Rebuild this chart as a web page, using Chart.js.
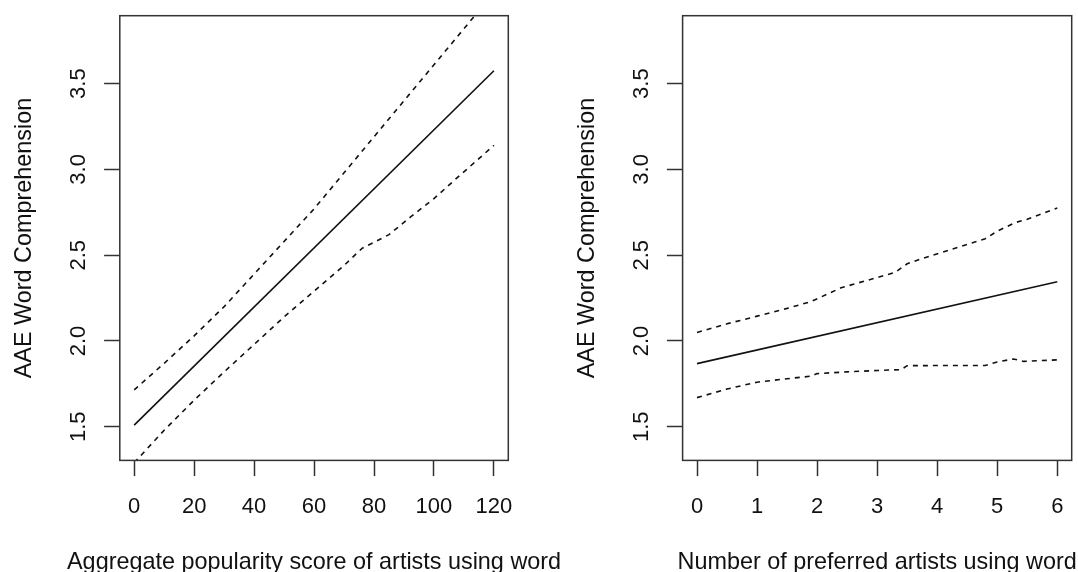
<!DOCTYPE html>
<html>
<head>
<meta charset="utf-8">
<script src="https://cdn.jsdelivr.net/npm/chart.js@4.4.1/dist/chart.umd.min.js"></script>
<style>
  html, body { margin: 0; padding: 0; background: #fff; }
  #wrap { position: relative; width: 1078px; height: 572px; overflow: hidden; }
  .panel { position: absolute; top: 0; height: 572px; }
</style>
</head>
<body>
<div id="wrap">
  <div class="panel" style="left:0"><canvas id="left" width="640" height="572"></canvas></div>
  <div class="panel" style="left:539px"><canvas id="right" width="539" height="572"></canvas></div>
</div>
<script>
// shared y axis
const yTicks = [1.5, 2.0, 2.5, 3.0, 3.5];
const yTitle = 'AAE Word Comprehension';

// left panel: aggregate popularity score
const popTicks = [0, 20, 40, 60, 80, 100, 120];
const popTitle = 'Aggregate popularity score of artists using word';
const popFitX = [0, 120];
const popFit = [1.51, 3.575];
const popUpperX = [0, 10, 20, 30, 40, 50, 60, 70, 80, 90, 100, 110, 120];
const popUpper = [1.715, 1.87, 2.03, 2.20, 2.39, 2.58, 2.77, 2.98, 3.19, 3.40, 3.61, 3.82, 4.03];
const popLowerX = [0, 10, 20, 30, 40, 50, 60, 70, 76, 85, 92, 100, 107, 120];
const popLower = [1.29, 1.48, 1.655, 1.82, 1.98, 2.14, 2.29, 2.44, 2.54, 2.62, 2.72, 2.83, 2.94, 3.14];

// right panel: number of preferred artists
const nTicks = [0, 1, 2, 3, 4, 5, 6];
const nTitle = 'Number of preferred artists using word';
const nFitX = [0, 6];
const nFit = [1.868, 2.345];
const nUpperX = [0, 0.5, 1, 1.5, 1.9, 2.4, 2.8, 3.3, 3.5, 3.7, 4.2, 4.8, 5.0, 5.3, 5.5, 6];
const nUpper = [2.05, 2.10, 2.145, 2.19, 2.23, 2.31, 2.35, 2.40, 2.45, 2.475, 2.53, 2.596, 2.64, 2.69, 2.71, 2.775];
const nLowerX = [0, 0.5, 1, 1.5, 1.9, 2.0, 2.5, 3.0, 3.4, 3.5, 4.0, 4.8, 5.0, 5.27, 5.44, 6];
const nLower = [1.67, 1.72, 1.76, 1.78, 1.795, 1.81, 1.82, 1.828, 1.833, 1.856, 1.857, 1.857, 1.878, 1.895, 1.881, 1.89];

const ink = '#111';
const frame = '#333';
const tickFont = '22px "Liberation Sans", Arial, sans-serif';
const titleFont = '23.4px "Liberation Sans", Arial, sans-serif';

function pts(xs, ys) {
  return xs.map((x, i) => ({ x: x, y: ys[i] }));
}

// box + R style labels
const rStyle = {
  id: 'rStyle',
  afterDraw(chart, args, opts) {
    const ctx = chart.ctx;
    const a = chart.chartArea;
    const xs = chart.scales.x;
    const ys = chart.scales.y;
    ctx.save();
    ctx.strokeStyle = frame;
    ctx.lineWidth = 1.5;
    ctx.strokeRect(a.left, a.top, a.right - a.left, a.bottom - a.top);

    ctx.fillStyle = ink;
    ctx.font = tickFont;
    ctx.textAlign = 'center';
    ctx.textBaseline = 'alphabetic';
    opts.xTicks.forEach(v => ctx.fillText(String(v), xs.getPixelForValue(v), 512.5));
    yTicks.forEach(v => {
      ctx.save();
      ctx.translate(a.left - 35, ys.getPixelForValue(v));
      ctx.rotate(-Math.PI / 2);
      ctx.fillText(v.toFixed(1), 0, 0);
      ctx.restore();
    });

    ctx.font = titleFont;
    ctx.fillText(opts.xTitle, (a.left + a.right) / 2, 569);
    ctx.save();
    ctx.translate(a.left - 88.5, (a.top + a.bottom) / 2);
    ctx.rotate(-Math.PI / 2);
    ctx.fillText(yTitle, 0, 0);
    ctx.restore();
    ctx.restore();
  }
};

function makePanel(id, p) {
  return new Chart(document.getElementById(id), {
    type: 'line',
    data: {
      datasets: [
        { data: pts(p.fitX, p.fit), borderColor: ink, borderWidth: 1.6, pointRadius: 0, tension: 0 },
        { data: pts(p.upX, p.up), borderColor: ink, borderWidth: 1.6, borderDash: [5, 5], pointRadius: 0, tension: 0 },
        { data: pts(p.loX, p.lo), borderColor: ink, borderWidth: 1.6, borderDash: [5, 5], pointRadius: 0, tension: 0 }
      ]
    },
    options: {
      responsive: false,
      animation: false,
      events: [],
      layout: { padding: p.pad },
      plugins: {
        legend: { display: false },
        tooltip: { enabled: false },
        rStyle: { xTicks: p.ticks, xTitle: p.title }
      },
      scales: {
        x: {
          type: 'linear',
          min: p.xmin,
          max: p.xmax,
          afterBuildTicks: ax => { ax.ticks = p.ticks.map(v => ({ value: v })); },
          grid: { drawOnChartArea: false, drawTicks: true, tickLength: 15.7, tickColor: frame, tickWidth: 1.5 },
          border: { display: false },
          ticks: { display: false }
        },
        y: {
          type: 'linear',
          min: 1.304,
          max: 3.896,
          afterBuildTicks: ax => { ax.ticks = yTicks.map(v => ({ value: v })); },
          grid: { drawOnChartArea: false, drawTicks: true, tickLength: 15.7, tickColor: frame, tickWidth: 1.5 },
          border: { display: false },
          ticks: { display: false }
        }
      }
    },
    plugins: [rStyle]
  });
}

makePanel('left', {
  fitX: popFitX, fit: popFit, upX: popUpperX, up: popUpper, loX: popLowerX, lo: popLower,
  ticks: popTicks, title: popTitle, xmin: -4.8, xmax: 124.8,
  pad: { left: 104.1, right: 131.7, top: 15.7, bottom: 95.9 }
});

makePanel('right', {
  fitX: nFitX, fit: nFit, upX: nUpperX, up: nUpper, loX: nLowerX, lo: nLower,
  ticks: nTicks, title: nTitle, xmin: -0.24, xmax: 6.24,
  pad: { left: 127.9, right: 6.3, top: 15.7, bottom: 95.9 }
});
</script>
</body>
</html>
